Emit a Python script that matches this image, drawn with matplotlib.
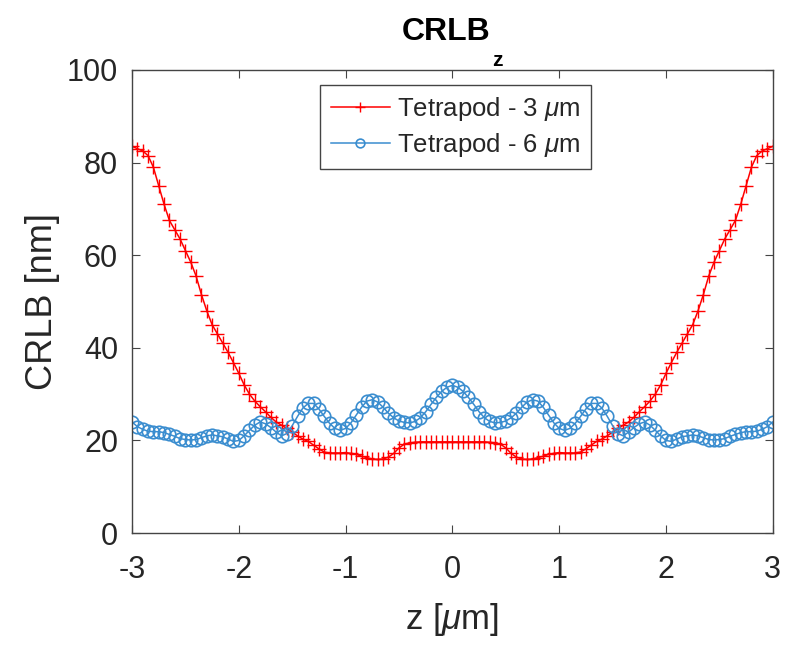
import numpy as np
import matplotlib
matplotlib.use("Agg")
import matplotlib.pyplot as plt

plt.rcParams["font.family"] = ["Liberation Sans", "DejaVu Sans"]
plt.rcParams["mathtext.fontset"] = "custom"
plt.rcParams["mathtext.rm"] = "Liberation Sans"
plt.rcParams["mathtext.it"] = "Liberation Sans:italic"
plt.rcParams["axes.unicode_minus"] = False

# axial position, 0.05 um sampling from -3 to 3
z = np.linspace(-3, 3, 121)

# Tetrapod - 3 um
crlb_3um = [
    83.5, 83.0, 82.5, 81.5, 79.0, 75.0, 71.0, 67.5, 65.5, 63.5,
    61.0, 58.5, 55.5, 51.5, 48.0, 45.0, 43.0, 41.0, 39.0, 36.8,
    34.5, 32.0, 30.0, 28.5, 27.3, 26.2, 25.0, 24.0, 23.3, 22.6,
    21.8, 21.0, 20.3, 19.8, 19.0, 18.2, 17.5, 17.3, 17.3, 17.3,
    17.4, 17.2, 17.0, 16.6, 16.3, 16.0, 15.9, 16.0, 16.4, 17.2,
    18.4, 19.2, 19.5, 19.6, 19.7, 19.7, 19.7, 19.7, 19.7, 19.7,
    19.7,
    19.7, 19.7, 19.7, 19.7, 19.7, 19.7, 19.6, 19.5, 19.2, 18.4,
    17.2, 16.4, 16.0, 15.9, 16.0, 16.3, 16.6, 17.0, 17.2, 17.4,
    17.3, 17.3, 17.3, 17.5, 18.2, 19.0, 19.8, 20.3, 21.0, 21.8,
    22.6, 23.3, 24.0, 25.0, 26.2, 27.3, 28.5, 30.0, 32.0, 34.5,
    36.8, 39.0, 41.0, 43.0, 45.0, 48.0, 51.5, 55.5, 58.5, 61.0,
    63.5, 65.5, 67.5, 71.0, 75.0, 79.0, 81.5, 82.5, 83.0, 83.5,
]

# Tetrapod - 6 um
crlb_6um = [
    24.0, 23.0, 22.4, 22.0, 21.9, 21.9, 21.7, 21.3, 20.9, 20.4,
    20.2, 20.1, 20.2, 20.6, 21.0, 21.2, 21.0, 20.8, 20.3, 19.8,
    20.0, 21.0, 22.2, 23.3, 24.0, 23.6, 22.8, 21.8, 21.0, 21.5,
    23.2, 25.2, 27.0, 28.0, 28.0, 26.8, 25.2, 23.7, 22.6, 22.2,
    22.6, 23.8, 25.5, 27.2, 28.5, 28.8, 28.3, 27.2, 25.9, 24.9,
    24.2, 23.9, 23.8, 24.1, 24.9, 26.2, 27.8, 29.3, 30.6, 31.5,
    31.9,
    31.5, 30.6, 29.3, 27.8, 26.2, 24.9, 24.1, 23.8, 23.9, 24.2,
    24.9, 25.9, 27.2, 28.3, 28.8, 28.5, 27.2, 25.5, 23.8, 22.6,
    22.2, 22.6, 23.7, 25.2, 26.8, 28.0, 28.0, 27.0, 25.2, 23.2,
    21.5, 21.0, 21.8, 22.8, 23.6, 24.0, 23.3, 22.2, 21.0, 20.0,
    19.8, 20.3, 20.8, 21.0, 21.2, 21.0, 20.6, 20.2, 20.1, 20.2,
    20.4, 20.9, 21.3, 21.7, 21.9, 21.9, 22.0, 22.4, 23.0, 24.0,
]

x_ticks = [-3, -2, -1, 0, 1, 2, 3]
y_ticks = [0, 20, 40, 60, 80, 100]

txt = "#262626"
fig = plt.figure(figsize=(8, 6.47), dpi=100)
ax = fig.add_axes([0.165, 0.176, 0.801, 0.716])

ax.plot(z, crlb_3um, color="#ff0000", marker="+", markersize=10, linewidth=1.1,
        markeredgewidth=1.0, label=r"Tetrapod - 3 $\mu$m")
ax.plot(z, crlb_6um, color="#3a8dcf", marker="o", markersize=9, linewidth=1.1,
        markerfacecolor="none", markeredgewidth=1.2, label=r"Tetrapod - 6 $\mu$m")

ax.set_xlim(-3, 3)
ax.set_ylim(0, 100)
ax.set_xticks(x_ticks)
ax.set_yticks(y_ticks)
ax.tick_params(direction="in", top=True, right=True, labelsize=22, length=6,
               color="#444444", labelcolor=txt)
ax.tick_params(axis="x", pad=16)
ax.tick_params(axis="y", pad=10)
for s in ax.spines.values():
    s.set_color("#444444")
    s.set_linewidth(1.0)

ax.set_xlabel(r"z [$\mu$m]", fontsize=25, color=txt, labelpad=11)
ax.set_ylabel("CRLB [nm]", fontsize=26, color=txt, labelpad=5)

# title with MATLAB-style dropped subscript
fig.text(0.5575, 0.938, "CRLB", fontsize=23, fontweight="bold", ha="center",
         va="baseline", color="black")
fig.text(0.615, 0.898, "z", fontsize=15, fontweight="bold", ha="left",
         va="baseline", color="black")

leg = ax.legend(loc="upper center", fontsize=18.5, fancybox=False, framealpha=1,
                edgecolor="#444444", bbox_to_anchor=(0.505, 0.978),
                handlelength=2.3, handletextpad=0.3, borderpad=0.4,
                labelspacing=0.3, borderaxespad=0.2, markerscale=0.7)
leg.get_frame().set_linewidth(1.0)
for t in leg.get_texts():
    t.set_color(txt)

fig.savefig("out.png", dpi=100)
